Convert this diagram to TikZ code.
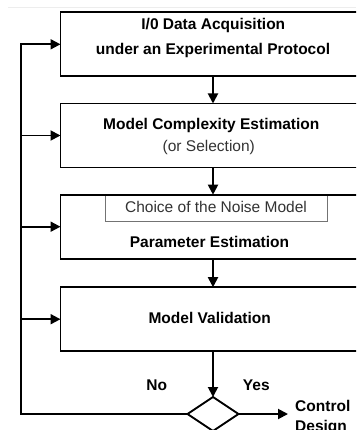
\documentclass[tikz,border=0pt]{standalone}
\usepackage{fontspec}
\setmainfont{Liberation Sans}
\usetikzlibrary{arrows.meta,shapes.geometric}
\begin{document}
\begin{tikzpicture}[x=1pt,y=-1pt,
  box/.style={draw=black,line width=1.9pt,minimum width=305pt,minimum height=64pt,inner sep=0pt,outer sep=0pt},
  subbox/.style={draw=black!55,line width=0.8pt,minimum width=222pt,minimum height=26pt,inner sep=0pt,outer sep=0pt},
  lbl/.style={font=\fontsize{15.5}{18}\selectfont\bfseries,inner sep=0pt,anchor=base},
  lblr/.style={font=\fontsize{15.5}{18}\selectfont,inner sep=0pt,anchor=base,text=black!80},
  arr/.style={line width=1.9pt,-{Triangle[length=10pt,width=10pt]}},
  feedthick/.style={line width=2.8pt}
  ]
\useasboundingbox (0,0) rectangle (356,430);
\clip (0,0) rectangle (356,430);
\fill[white] (0,0) rectangle (356,430);
\coordinate (g0) at (8,7);
\coordinate (g1) at (356,7);
\draw[black!7,line width=0.8pt] (g0) -- (g1);

% boxes
\node[box] (b1) at (213,44.3) {};
\node[box] (b2) at (213,135.5) {};
\node[subbox] (sb) at (216,208) {};
\node[box] (b3) at (213,226.7) {};
\node[box] (b4) at (213,319.2) {};
\node[diamond,draw=black,line width=1.9pt,minimum width=51pt,minimum height=34pt,inner sep=0pt,outer sep=0pt] (dia) at (213,414) {};

% texts
\node[lbl] (t1a) at (213.3,30) {I/0 Data Acquisition};
\node[lbl] (t1b) at (213,55) {under an Experimental Protocol};
\node[lbl] (t2a) at (211.3,129.3) {Model Complexity Estimation};
\node[lblr] (t2b) at (208.8,151.7) {(or Selection)};
\node[lblr] (t3a) at (216,212.5) {Choice of the Noise Model};
\node[lbl] (t3b) at (209.5,247.5) {Parameter Estimation};
\node[lbl] (t4) at (209.7,323) {Model Validation};
\node[lbl] (no) at (156.7,390) {No};
\node[lbl] (yes) at (256.3,390) {Yes};
\node[lbl,anchor=base west] (ctl) at (295,411.7) {Control};
\node[lbl,anchor=base west] (des) at (295,431) {Design};

% main flow
\draw[arr] (b1.south) -- (b2.north);
\draw[arr] (b2.south) -- (b3.north);
\draw[arr] (b3.south) -- (b4.north);
\draw[arr] (b4.south) -- (dia.north);
\coordinate (ce) at (288,414);
\draw[arr] (dia.east) -- (ce);

% feedback
\coordinate (fb) at (20.7,414);
\draw[feedthick] (dia.west) -- ([xshift=-0.95pt]fb);
\draw[arr] (fb) |- (b1.west);
\draw[arr] (b2.west -| fb) -- (b2.west);
\draw[arr] (b3.west -| fb) -- (b3.west);
\draw[arr] (b4.west -| fb) -- (b4.west);
\end{tikzpicture}
\end{document}
